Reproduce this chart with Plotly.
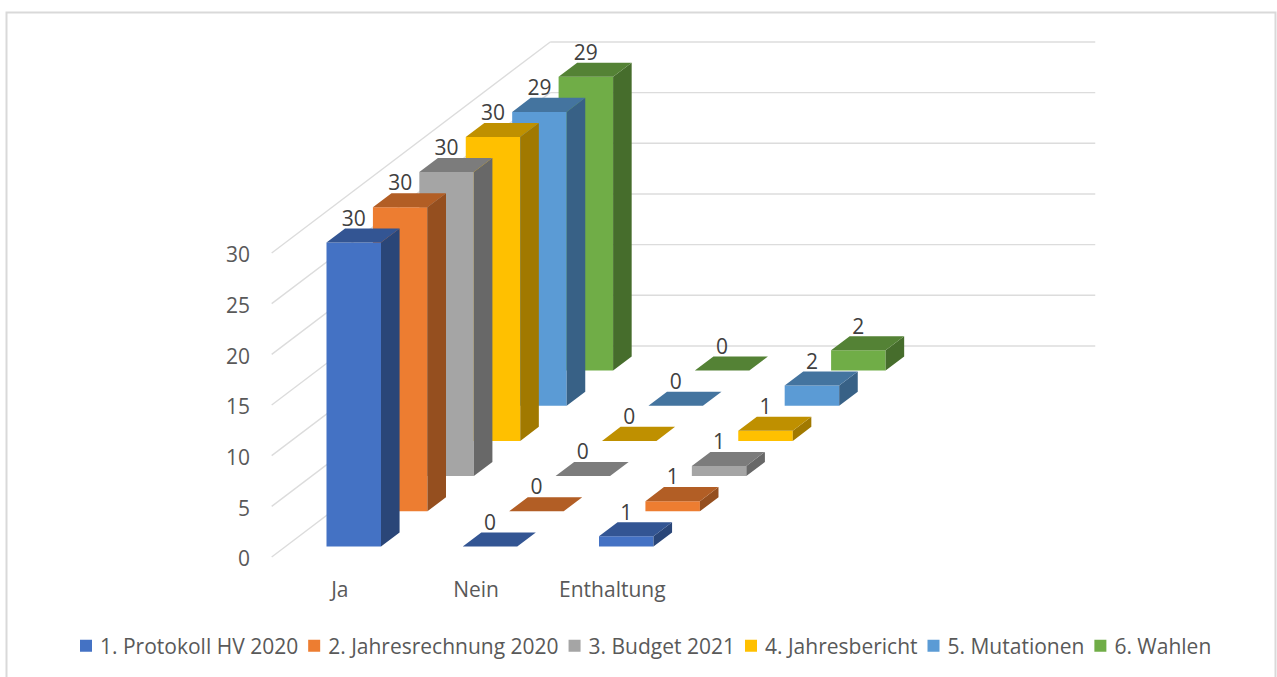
import plotly.graph_objects as go

categories = ["Ja", "Nein", "Enthaltung"]
series_names = ["1. Protokoll HV 2020", "2. Jahresrechnung 2020", "3. Budget 2021",
                "4. Jahresbericht", "5. Mutationen", "6. Wahlen"]
protokoll = [30, 0, 1]
jahresrechnung = [30, 0, 1]
budget = [30, 0, 1]
jahresbericht = [30, 0, 1]
mutationen = [29, 0, 2]
wahlen = [29, 0, 2]
series_values = [protokoll, jahresrechnung, budget, jahresbericht, mutationen, wahlen]
value_ticks = [0, 5, 10, 15, 20, 25, 30]

front_colors = ["#4472C4", "#ED7D31", "#A5A5A5", "#FFC000", "#5B9BD5", "#70AD47"]
top_colors = ["#335593", "#B25E25", "#7C7C7C", "#BF9000", "#44749F", "#548235"]
side_colors = ["#2A4678", "#954F1F", "#686868", "#A17900", "#386186", "#466D2C"]

FONT = "Open Sans"
FS = 21

# oblique projection: one series step of depth in axis units
N_CAT_SLOTS = 4
STEP_X = 46.42 / 136.25
STEP_Y = 35.17 / 10.133
BAR_W = 0.4
DEPTH = 0.4
LABEL_NUDGE = 2.5 / 10.133

W, H = 1277, 677
L, R, T, B = 256, 7, 20, 102
x_min = (L - 271.7) / 136.25
x_max = (W - R - 271.7) / 136.25
y_min = (557 - (H - B)) / 10.133
y_max = (557 - T) / 10.133


def px(v):
    return (v - L) / (W - L - R)


def py(v):
    return (H - B - v) / (H - T - B)


shapes = []
grid = dict(color="#DCDCDC", width=1.4)
for t in value_ticks:
    shapes.append(dict(type="line", xref="x", yref="y", layer="below", line=grid,
                       x0=0, y0=t, x1=6 * STEP_X, y1=t + 6 * STEP_Y))
    shapes.append(dict(type="line", xref="x", yref="y", layer="below", line=grid,
                       x0=6 * STEP_X, y0=t + 6 * STEP_Y,
                       x1=6 * STEP_X + N_CAT_SLOTS, y1=t + 6 * STEP_Y))
frame = dict(color="#D9D9D9", width=2)
shapes.append(dict(type="path", xref="paper", yref="paper", line=frame,
                   path=f"M{px(6.5)},{py(677)} L{px(6.5)},{py(12.5)} L{px(1275.5)},{py(12.5)} L{px(1275.5)},{py(677)}"))

fig = go.Figure()
n = len(series_names)

# front faces, back series first so nearer bars cover them
for s in reversed(range(n)):
    sx = (s + (1 - DEPTH) / 2) * STEP_X
    sy = (s + (1 - DEPTH) / 2) * STEP_Y
    vals = series_values[s]
    fig.add_trace(go.Bar(
        x=[c + 0.5 + sx for c in range(len(categories))],
        y=vals, base=[sy] * len(vals), width=BAR_W,
        name=series_names[s], marker=dict(color=front_colors[s], line=dict(width=0)),
        hoverinfo="name+y",
    ))

# side and top faces
label_x, label_y, label_t = [], [], []
for s in reversed(range(n)):
    sx = (s + (1 - DEPTH) / 2) * STEP_X
    sy = (s + (1 - DEPTH) / 2) * STEP_Y
    dx, dy = DEPTH * STEP_X, DEPTH * STEP_Y
    tx, ty, sdx, sdy = [], [], [], []
    for c, v in enumerate(series_values[s]):
        x0 = c + 0.5 - BAR_W / 2 + sx
        x1 = x0 + BAR_W
        top = v + sy
        tx += [x0, x1, x1 + dx, x0 + dx, x0, None]
        ty += [top, top, top + dy, top + dy, top, None]
        if v > 0:
            sdx += [x1, x1 + dx, x1 + dx, x1, x1, None]
            sdy += [sy, sy + dy, top + dy, top, sy, None]
        label_x.append(c + 0.5 + sx)
        label_y.append(top + dy - LABEL_NUDGE)
        label_t.append(str(v))
    fig.add_trace(go.Scatter(x=sdx, y=sdy, mode="lines", fill="toself", fillcolor=side_colors[s],
                             line=dict(width=0), showlegend=False, hoverinfo="skip"))
    fig.add_trace(go.Scatter(x=tx, y=ty, mode="lines", fill="toself", fillcolor=top_colors[s],
                             line=dict(width=0), showlegend=False, hoverinfo="skip"))

fig.add_trace(go.Scatter(x=label_x, y=label_y, text=label_t, mode="text", textposition="top center",
                         textfont=dict(family=FONT, size=FS, color="#404040"),
                         showlegend=False, hoverinfo="skip"))

fig.update_layout(
    width=W, height=H, autosize=False,
    margin=dict(l=L, r=R, t=T, b=B, pad=0, autoexpand=False),
    paper_bgcolor="white", plot_bgcolor="white",
    barmode="overlay", shapes=shapes, font=dict(family=FONT, size=FS, color="#595959"),
    xaxis=dict(range=[x_min, x_max], showgrid=False, zeroline=False, showline=False,
               tickmode="array", tickvals=[c + 0.5 for c in range(len(categories))],
               ticktext=categories, ticks="", tickfont=dict(family=FONT, size=FS, color="#595959")),
    yaxis=dict(range=[y_min, y_max], showgrid=False, zeroline=False, showline=False,
               tickmode="array", tickvals=value_ticks, ticks="", ticklabelstandoff=5,
               ticklabelshift=2,
               tickfont=dict(family=FONT, size=FS, color="#595959")),
    legend=dict(orientation="h", xref="paper", yref="paper", x=px(75), y=py(646),
                xanchor="left", yanchor="middle", traceorder="reversed", indentation=-15,
                font=dict(family=FONT, size=FS, color="#595959"), bgcolor="rgba(0,0,0,0)"),
    showlegend=True,
)

post = """
document.body.style.margin='0';
document.querySelectorAll('.legendsymbols').forEach(function(g){
  var t = g.getAttribute('transform') || '';
  g.setAttribute('transform', t + ' translate(6,0)');
});
"""
fig.write_html("out.html", config=dict(displayModeBar=False), post_script=post)
